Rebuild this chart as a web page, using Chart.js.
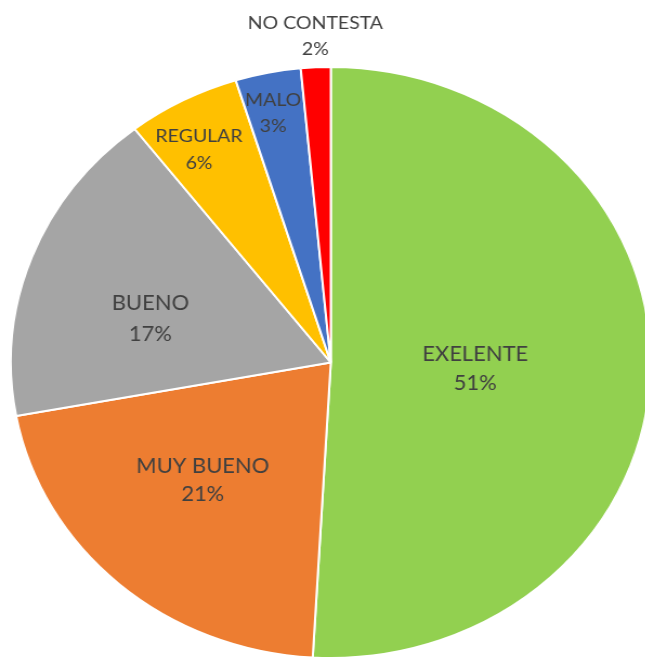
<!DOCTYPE html>
<html><head><meta charset="utf-8">
<script src="https://cdn.jsdelivr.net/npm/chart.js@4"></script>
<style>
html,body{margin:0;padding:0;background:#fff;overflow:hidden;width:645px;height:659px}
#c{display:block}
</style></head><body>
<canvas id="c" width="604" height="659" style="width:654px;height:659px"></canvas>
<script>
const categories = ['EXELENTE', 'MUY BUENO', 'BUENO', 'REGULAR', 'MALO', 'NO CONTESTA'];
const values = [50.9, 21.2, 17.4, 5.7, 3.3, 1.5];
const percentLabels = ['51%', '21%', '17%', '6%', '3%', '2%'];
const colors = ['#92D050', '#ED7D31', '#A5A5A5', '#FFC000', '#4472C4', '#FF0000'];

const labelPlugin = {
  id: 'sliceLabels',
  afterDatasetsDraw(chart, args, opts) {
    const ctx = chart.ctx;
    const meta = chart.getDatasetMeta(0);
    meta.data.forEach((arc, i) => {
      const p = arc.getProps(['x', 'y', 'startAngle', 'endAngle', 'outerRadius'], true);
      const mid = (p.startAngle + p.endAngle) / 2 + opts.angleOffset[i] * Math.PI / 180;
      const r = p.outerRadius * opts.radiusFraction[i];
      const x = p.x + Math.cos(mid) * r;
      const y = p.y + Math.sin(mid) * r;
      const sx = opts.xScale[i];
      const gap = opts.lineGap[i];
      ctx.save();
      ctx.translate(x, y);
      ctx.scale(sx, 1);
      ctx.font = opts.fontSize[i] + 'px ' + opts.family;
      ctx.fillStyle = opts.color;
      ctx.textAlign = 'center';
      ctx.textBaseline = 'middle';
      ctx.fillText(chart.data.labels[i], 0, -gap / 2);
      ctx.fillText(percentLabels[i], 0, gap / 2);
      ctx.restore();
    });
  }
};

new Chart(document.getElementById('c'), {
  type: 'pie',
  data: {
    labels: categories,
    datasets: [{
      data: values,
      backgroundColor: colors,
      borderColor: '#ffffff',
      borderWidth: 2
    }]
  },
  options: {
    responsive: false,
    animation: false,
    devicePixelRatio: 1,
    layout: { padding: { left: 9, top: 66, right: 2, bottom: 0 } },
    plugins: {
      legend: { display: false },
      tooltip: { enabled: false },
      sliceLabels: {
        family: 'Lato, "Open Sans", sans-serif',
        color: '#404040',
        fontSize: [22, 22, 22, 18, 18, 18],
        xScale: [0.92, 0.92, 0.92, 1, 1, 1],
        lineGap: [29, 28, 31, 27, 26, 26],
        radiusFraction: [0.452, 0.563, 0.583, 0.83, 0.864, 1.106],
        angleOffset: [1, 3.9, -6.1, -2.2, -0.7, 0.2]
      }
    }
  },
  plugins: [labelPlugin]
});
</script>
</body></html>
